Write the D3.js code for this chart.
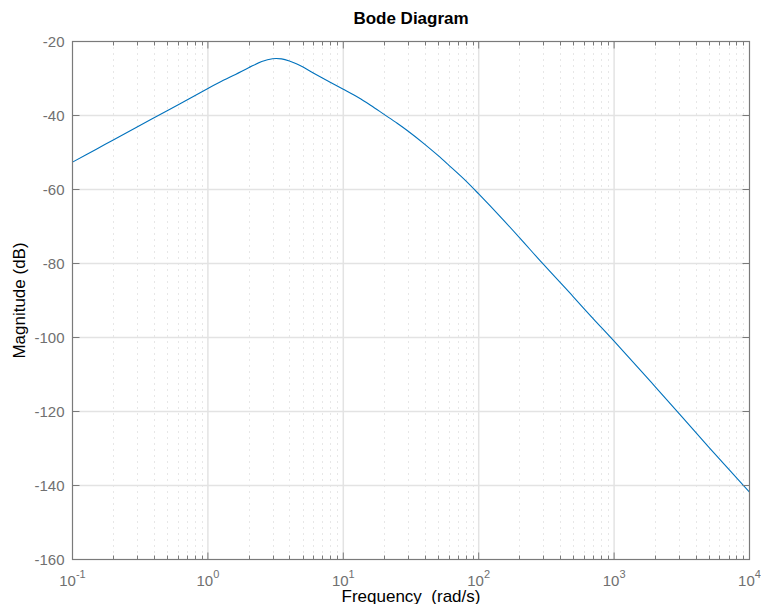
<!DOCTYPE html>
<html><head><meta charset="utf-8">
<script src="https://cdn.jsdelivr.net/npm/d3@7"></script>
<style>body{margin:0;background:#fff}svg{display:block}text{font-family:"Liberation Sans",Arial,Helvetica,sans-serif}</style>
</head><body><svg id="c" width="761" height="604"></svg>
<script>
const freq = [0.1,0.15,0.2,0.3,0.5,0.7,1,1.3,1.6,2,2.5,3,3.5,4,4.5,5,6,8,10,13,16,20,25,30,40,50,60,80,100,150,200,300,500,700,1000,2000,5000,10000];
const magDb = [-52.6,-49.1,-46.6,-43.1,-38.7,-35.8,-32.7,-30.5,-28.9,-27.1,-25.4,-24.65,-24.7,-25.25,-26.0,-26.85,-28.5,-31.0,-32.9,-35.2,-37.3,-39.7,-42.1,-44.2,-47.8,-50.8,-53.4,-57.6,-61.2,-68.0,-73.0,-80.2,-89.0,-94.9,-101,-113.2,-129.6,-141.8];
const xTickExp = [-1,0,1,2,3,4];
const yTicks = [-160,-140,-120,-100,-80,-60,-40,-20];
const titleText = "Bode Diagram";
const xLabel = "Frequency  (rad/s)";
const yLabel = "Magnitude (dB)";

const L=72.5, R=749.5, T=41.5, B=559.5;
const svg = d3.select("#c");
const x = d3.scaleLog().domain([0.1,10000]).range([L,R]);
const y = d3.scaleLinear().domain([-160,-20]).range([B,T]);

const minor = [];
for (let e=-1;e<4;e++) for (let k=2;k<=9;k++) minor.push(k*Math.pow(10,e));

const g = svg.append("g");
g.selectAll(".mg").data(minor).enter().append("line")
 .attr("x1",d=>Math.round(x(d))+0.5).attr("x2",d=>Math.round(x(d))+0.5)
 .attr("y1",T).attr("y2",B).attr("stroke","#cfcfcf").attr("stroke-width",1).attr("stroke-dasharray","1,5");
g.selectAll(".gx").data(xTickExp.slice(1,-1)).enter().append("line")
 .attr("x1",d=>x(Math.pow(10,d))).attr("x2",d=>x(Math.pow(10,d)))
 .attr("y1",T).attr("y2",B).attr("stroke","#e3e3e3").attr("stroke-width",1.5);
g.selectAll(".gy").data(yTicks.slice(1,-1)).enter().append("line")
 .attr("y1",d=>y(d)).attr("y2",d=>y(d))
 .attr("x1",L).attr("x2",R).attr("stroke","#e3e3e3").attr("stroke-width",1.5);

const pts = freq.map((f,i)=>[f,magDb[i]]);
svg.append("path").datum(pts)
 .attr("d", d3.line().x(d=>x(d[0])).y(d=>y(d[1])).curve(d3.curveCatmullRom.alpha(0.5)))
 .attr("fill","none").attr("stroke","#0072BD").attr("stroke-width",1.1);

const ac="#7a7a7a";
svg.append("rect").attr("x",L).attr("y",T).attr("width",R-L).attr("height",B-T)
 .attr("fill","none").attr("stroke",ac).attr("stroke-width",1.2);

const tg = svg.append("g").attr("stroke",ac).attr("stroke-width",1);
minor.forEach(m=>{
  const px=Math.round(x(m))+0.5;
  tg.append("line").attr("x1",px).attr("x2",px).attr("y1",B).attr("y2",B-4);
  tg.append("line").attr("x1",px).attr("x2",px).attr("y1",T).attr("y2",T+4);
});
xTickExp.forEach(e=>{
  const px=x(Math.pow(10,e));
  tg.append("line").attr("x1",px).attr("x2",px).attr("y1",B).attr("y2",B-7);
  tg.append("line").attr("x1",px).attr("x2",px).attr("y1",T).attr("y2",T+7);
});
yTicks.forEach(v=>{
  tg.append("line").attr("x1",L).attr("x2",L+7).attr("y1",y(v)).attr("y2",y(v));
  tg.append("line").attr("x1",R).attr("x2",R-7).attr("y1",y(v)).attr("y2",y(v));
});

const lc="#707070";
svg.selectAll(".yl").data(yTicks).enter().append("text")
 .attr("x",L-8).attr("y",d=>y(d)+5).attr("text-anchor","end")
 .attr("font-size",15).attr("fill",lc).text(d=>d);
const xl = svg.selectAll(".xl").data(xTickExp).enter().append("text")
 .attr("x",d=>x(Math.pow(10,d))).attr("y",586).attr("text-anchor","middle")
 .attr("font-size",15).attr("fill",lc);
xl.append("tspan").text("10");
xl.append("tspan").attr("dy",-8).attr("font-size",11).text(d=>d);

svg.append("text").attr("x",(L+R)/2).attr("y",24).attr("text-anchor","middle")
 .attr("font-size",17).attr("font-weight","bold").attr("fill","#000").text(titleText);
svg.append("text").attr("x",(L+R)/2).attr("y",602).attr("text-anchor","middle")
 .attr("font-size",17).attr("fill","#000").text(xLabel.replace("  ","\u00a0 "));
svg.append("text").attr("transform",`translate(25,${(T+B)/2}) rotate(-90)`).attr("text-anchor","middle")
 .attr("font-size",17).attr("fill","#000").text(yLabel);
</script></body></html>
